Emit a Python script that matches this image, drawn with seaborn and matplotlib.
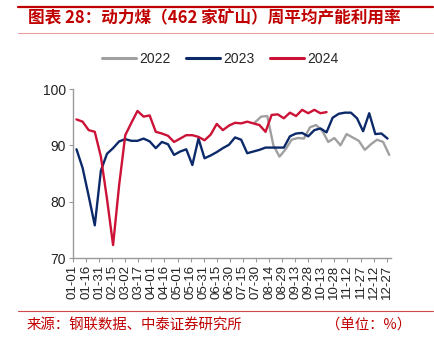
import matplotlib
matplotlib.use("Agg")
import matplotlib.pyplot as plt
import seaborn as sns
import pandas as pd
from matplotlib.lines import Line2D

# ---------------- data ----------------
years = ["2022", "2023", "2024"]
start_2022 = "2022-07-29"
start_2023 = "2023-01-05"
start_2024 = "2023-01-05"   # plotted on a common Jan-Dec axis

vals_2022 = [94.1, 95.1, 95.2, 90.0, 88.0, 89.3, 91.0, 91.3, 91.2, 93.2, 93.6, 92.6,
             90.6, 91.3, 90.0, 92.0, 91.4, 90.8, 89.2, 90.2, 91.0, 90.6, 88.3]
vals_2023 = [89.3, 86.0, 81.0, 75.8, 85.5, 88.5, 89.5, 90.7, 91.1, 90.8, 90.8, 91.2,
             90.7, 89.5, 90.6, 90.2, 88.3, 88.9, 89.3, 86.5, 91.2, 87.7, 88.2, 88.8,
             89.5, 90.1, 91.4, 91.0, 88.6, 88.9, 89.2, 89.6, 89.6, 89.6, 89.6, 91.6,
             92.1, 92.2, 91.6, 92.7, 93.0, 92.3, 94.9, 95.6, 95.8, 95.8, 94.8, 92.5,
             95.7, 92.0, 92.1, 91.2]
vals_2024 = [94.6, 94.2, 92.7, 92.4, 88.0, 80.5, 72.3, 83.0, 91.8, 94.0, 96.1, 95.1,
             95.3, 92.4, 92.1, 91.7, 90.6, 91.2, 91.8, 91.8, 91.5, 90.9, 91.9, 93.8,
             92.7, 93.5, 94.0, 93.9, 94.2, 93.9, 93.6, 92.4, 95.4, 95.5, 94.8, 95.8,
             95.2, 96.3, 95.7, 96.3, 95.7, 95.9]

tick_labels = ["01-01", "01-16", "01-31", "02-15", "03-02", "03-17", "04-01", "04-16",
               "05-01", "05-16", "05-31", "06-15", "06-30", "07-15", "07-30", "08-14",
               "08-29", "09-13", "09-28", "10-13", "10-28", "11-12", "11-27", "12-12",
               "12-27"]
y_ticks = [70, 80, 90, 100]

title = "图表 28：动力煤（462 家矿山）周平均产能利用率"
source = "来源：钢联数据、中泰证券研究所"
unit = "（单位：%）"

colors = {"2022": "#a0a0a0", "2023": "#0c2a6a", "2024": "#cc1236"}

# ---------------- build frame ----------------
def doy(dates):
    return [d.dayofyear - 1 for d in dates]

frames = []
for yr, start, vals in [("2022", start_2022, vals_2022),
                        ("2023", start_2023, vals_2023),
                        ("2024", start_2024, vals_2024)]:
    dates = pd.date_range(start, periods=len(vals), freq="7D")
    frames.append(pd.DataFrame({"day": doy(dates), "value": vals, "year": yr}))
df = pd.concat(frames, ignore_index=True)

tick_pos = [pd.Timestamp("2023-" + t).dayofyear - 1 for t in tick_labels]

# ---------------- plot ----------------
sns.set_theme(style="white")
plt.rcParams["font.family"] = ["Liberation Sans", "Noto Sans CJK SC", "DejaVu Sans"]

W, H = 434, 338
fig = plt.figure(figsize=(W / 100, H / 100), dpi=100)
ax = fig.add_axes([73 / W, 1 - 258 / H, 318 / W, 169 / H])

sns.lineplot(data=df, x="day", y="value", hue="year", hue_order=years,
             palette=colors, linewidth=1.7, ax=ax, legend=True)

ax.set_xlim(0, 365)
ax.set_ylim(70, 100)
ax.set_xticks(tick_pos)
ax.set_xticklabels(tick_labels, rotation=90, fontsize=9.5, color="#222222")
ax.set_yticks(y_ticks)
ax.set_yticklabels([str(v) for v in y_ticks], fontsize=10, color="#222222")
ax.set_xlabel("")
ax.set_ylabel("")
for s in ["top", "right"]:
    ax.spines[s].set_visible(False)
for s in ["left", "bottom"]:
    ax.spines[s].set_color("#9a9a9a")
    ax.spines[s].set_linewidth(1.0)
ax.tick_params(axis="both", which="major", direction="out", length=3, width=0.8,
               color="#9a9a9a", pad=2, bottom=True, left=True)

leg = ax.legend(loc="center", bbox_to_anchor=(0.507, 1 - 59 / H),
                bbox_transform=fig.transFigure, ncol=3, frameon=False,
                fontsize=10, handlelength=2.5, handletextpad=0.2,
                columnspacing=1.1)
for h in leg.get_lines():
    h.set_linewidth(2.2)

# ---------------- title, rules, footer ----------------
cjk = ["Noto Sans CJK SC", "DejaVu Sans"]
fig.add_artist(Line2D([18 / W, 433 / W], [1 - 7 / H] * 2, transform=fig.transFigure,
                      color="#c00000", linewidth=1.6))
fig.add_artist(Line2D([18 / W, 433 / W], [1 - 33 / H] * 2, transform=fig.transFigure,
                      color="#e6a0a0", linewidth=0.8))
fig.text(28 / W, 1 - 18 / H, title, fontsize=12.0, fontweight="bold", color="#c00000",
         family=cjk, ha="left", va="center")

fig.add_artist(Line2D([18 / W, 433 / W], [1 - 311 / H] * 2, transform=fig.transFigure,
                      color="#d04848", linewidth=0.8))
fig.text(27 / W, 1 - 325 / H, source, fontsize=10.4, color="#c00000", family=cjk,
         ha="left", va="center")
fig.text(411 / W, 1 - 325 / H, unit, fontsize=10.4, color="#c00000", family=cjk,
         ha="right", va="center")

fig.savefig("out.png", dpi=100)
